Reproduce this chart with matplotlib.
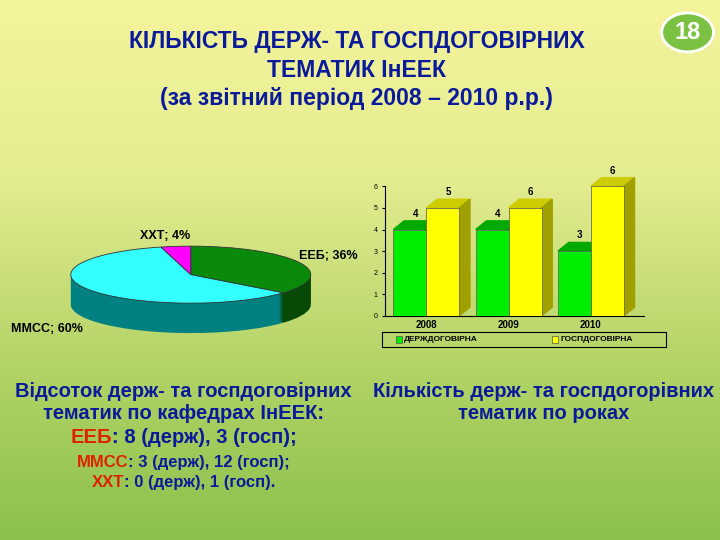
import matplotlib.pyplot as plt
import numpy as np
from matplotlib.patches import Rectangle, Circle
from matplotlib.colors import LinearSegmentedColormap

plt.rcParams['font.family'] = ['Liberation Sans', 'DejaVu Sans']

# pie data
pie_labels = ['ЕЕБ; 36%', 'ММСС; 60%', 'ХХТ; 4%']
pie_values = [36, 60, 4]
pie_top = ['#0a8a0a', '#33ffff', '#ff00ff']
pie_side = ['#064a06', '#008080', '#800080']

# bar data
years = ['2008', '2009', '2010']
derzh = [4, 4, 3]
gosp = [5, 5, 6]
derzh_lbl = ['4', '4', '3']
gosp_lbl = ['5', '6', '6']

BLUE = '#0a1a9a'
RED = '#dd2200'

fig = plt.figure(figsize=(7.2, 5.4), dpi=100)

# background gradient
bg = fig.add_axes([0, 0, 1, 1])
cmap = LinearSegmentedColormap.from_list('bg', ['#f4f49c', '#e4ec90', '#b4d468', '#8cc04c'])
bg.imshow(np.linspace(0, 1, 256).reshape(-1, 1), aspect='auto', cmap=cmap, extent=[0, 1, 0, 1])
bg.set_xlim(0, 1)
bg.set_ylim(0, 1)
bg.axis('off')

# badge
bg.add_patch(Circle((0.955, 0.94), 0.036, transform=bg.transAxes, color='#7cc242', ec='white', lw=2))
bg.text(0.955, 0.94, '18', ha='center', va='center', fontsize=17, fontweight='bold', color='white')

fig.text(0.495, 0.87, 'КІЛЬКІСТЬ ДЕРЖ- ТА ГОСПДОГОВІРНИХ\nТЕМАТИК ІнЕЕК\n(за звітний період 2008 – 2010 р.р.)',
         ha='center', va='center', fontsize=16.5, fontweight='bold', color=BLUE, linespacing=1.3)


def mixed_line(x, y, parts, size):
    full = ''.join(p for p, _ in parts)
    probe = fig.text(x, y, full, ha='center', va='center', fontsize=size, fontweight='bold', alpha=0)
    fig.canvas.draw()
    bb = probe.get_window_extent()
    prev = None
    for p, c in parts:
        if prev is None:
            prev = fig.text(bb.x0 / fig.bbox.width, y, p, ha='left', va='center',
                            fontsize=size, fontweight='bold', color=c)
        else:
            prev = plt.annotate(p, xy=(1, 0.5), xycoords=prev, ha='left', va='center',
                                fontsize=size, fontweight='bold', color=c, annotation_clip=False)


# 3D-like pie
ax = fig.add_axes([0.09, 0.37, 0.35, 0.19])
for dy in np.linspace(-1.05, 0, 16):
    cols = pie_side if dy < 0 else pie_top
    ax.pie(pie_values, colors=cols, startangle=90, counterclock=False, center=(0, dy),
           wedgeprops=dict(lw=0.6 if dy == 0 else 0, edgecolor='#333333'))
ax.set_xlim(-1.05, 1.05)
ax.set_ylim(-2.3, 1.3)
ax.set_aspect('auto')
fig.text(0.195, 0.558, pie_labels[2], fontsize=9, fontweight='bold', ha='left')
fig.text(0.415, 0.52, pie_labels[0], fontsize=9, fontweight='bold', ha='left')
fig.text(0.015, 0.385, pie_labels[1], fontsize=9, fontweight='bold', ha='left')

fig.text(0.255, 0.255, 'Відсоток держ- та госпдоговірних\nтематик по кафедрах ІнЕЕК:',
         ha='center', va='center', fontsize=14.5, fontweight='bold', color=BLUE, linespacing=1.2)
mixed_line(0.255, 0.19, [('ЕЕБ', RED), (': 8 (держ), 3 (госп);', BLUE)], 14.5)
mixed_line(0.255, 0.143, [('ММСС', RED), (': 3 (держ), 12 (госп);', BLUE)], 12)
mixed_line(0.255, 0.107, [('ХХТ', RED), (': 0 (держ), 1 (госп).', BLUE)], 12)
fig.text(0.755, 0.255, 'Кількість держ- та госпдогорівних\nтематик по роках',
         ha='center', va='center', fontsize=14.5, fontweight='bold', color=BLUE, linespacing=1.2)

# 3D-like bars
bx = fig.add_axes([0.535, 0.415, 0.36, 0.24])
bx.patch.set_alpha(0)
x = np.arange(len(years))
bw = 0.4
dx, dz = 0.13, 0.4
for xs, vals, lbls, front, top, side in [(x - bw / 2, derzh, derzh_lbl, '#00ee00', '#00aa00', '#008800'),
                                         (x + bw / 2, gosp, gosp_lbl, '#ffff00', '#cccc00', '#a0a000')]:
    bx.bar(xs, vals, bw, color=front, edgecolor='#555555', lw=0.5, zorder=3)
    for xi, v, lb in zip(xs, vals, lbls):
        bx.add_patch(plt.Polygon([(xi - bw / 2, v), (xi - bw / 2 + dx, v + dz), (xi + bw / 2 + dx, v + dz),
                                  (xi + bw / 2, v)], color=top, zorder=2, clip_on=False))
        bx.add_patch(plt.Polygon([(xi + bw / 2, 0), (xi + bw / 2 + dx, dz), (xi + bw / 2 + dx, v + dz),
                                  (xi + bw / 2, v)], color=side, zorder=2, clip_on=False))
        bx.text(xi + dx / 2, v + dz + 0.1, lb, ha='center', va='bottom', fontsize=7, fontweight='bold')
bx.set_xlim(-0.5, 2.65)
bx.set_ylim(0, 6)
bx.set_yticks(range(7))
bx.set_xticks(x)
bx.set_xticklabels(years, fontsize=7, fontweight='bold')
bx.tick_params(axis='y', labelsize=5, length=2)
bx.tick_params(axis='x', length=0, pad=3)
for s in ['top', 'right']:
    bx.spines[s].set_visible(False)

lg = fig.add_axes([0.53, 0.357, 0.395, 0.028])
lg.set_xticks([])
lg.set_yticks([])
lg.patch.set_alpha(0)
lg.add_patch(Rectangle((0.05, 0.25), 0.02, 0.5, fc='#00ee00', ec='#555555', lw=0.5))
lg.text(0.08, 0.5, 'ДЕРЖДОГОВІРНА', fontsize=6, fontweight='bold', va='center')
lg.add_patch(Rectangle((0.6, 0.25), 0.02, 0.5, fc='#ffff00', ec='#555555', lw=0.5))
lg.text(0.63, 0.5, 'ГОСПДОГОВІРНА', fontsize=6, fontweight='bold', va='center')

fig.savefig('out.png', dpi=100)
